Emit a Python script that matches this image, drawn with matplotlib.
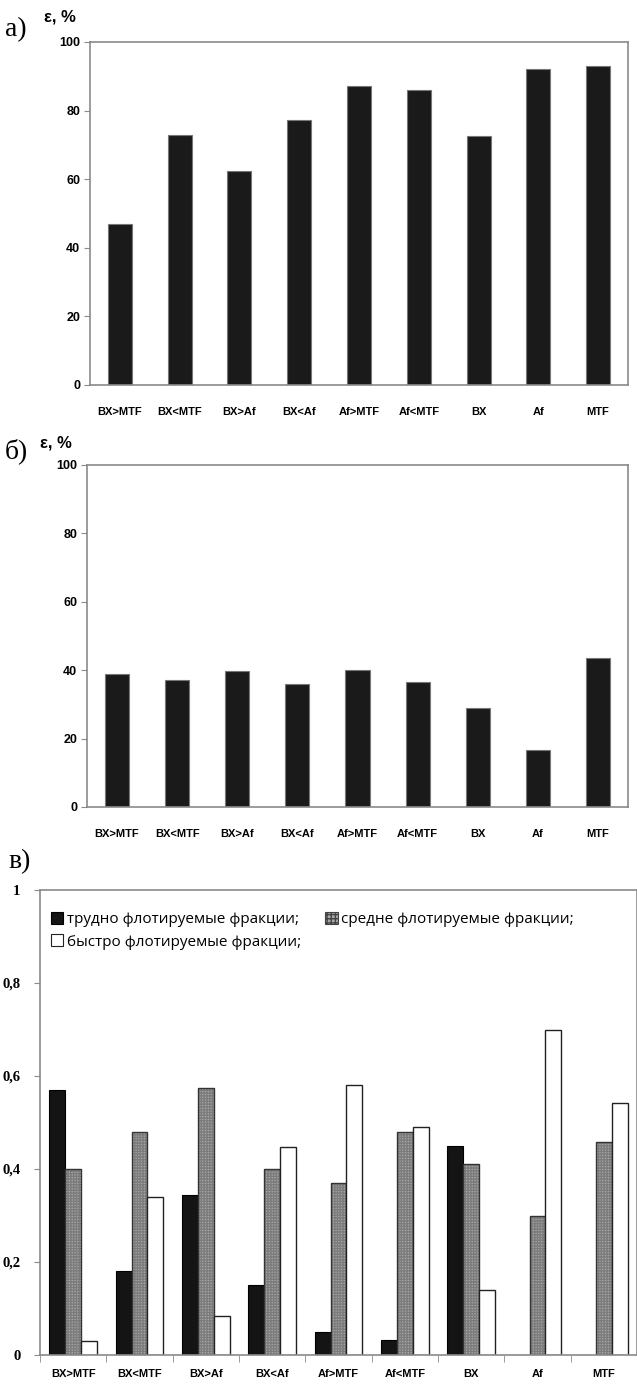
import matplotlib
matplotlib.use("Agg")
import matplotlib.pyplot as plt
import numpy as np
from matplotlib.patches import Patch

categories = ["BX>MTF", "BX<MTF", "BX>Af", "BX<Af", "Af>MTF", "Af<MTF", "BX", "Af", "MTF"]

# panel а) and б): extraction, %
eps_a = [47.0, 73.0, 62.3, 77.2, 87.2, 86.0, 72.5, 92.2, 93.0]
eps_b = [39.0, 37.2, 39.8, 36.0, 40.2, 36.5, 29.0, 16.8, 43.6]
eps_ticks = [0, 20, 40, 60, 80, 100]

# panel в): fraction shares
hard = [0.57, 0.18, 0.345, 0.15, 0.05, 0.033, 0.45, 0.0, 0.0]
medium = [0.40, 0.48, 0.575, 0.40, 0.37, 0.48, 0.41, 0.30, 0.457]
fast = [0.03, 0.34, 0.083, 0.447, 0.58, 0.49, 0.14, 0.70, 0.543]
share_ticks = [0, 0.2, 0.4, 0.6, 0.8, 1.0]
share_labels = ["0", "0,2", "0,4", "0,6", "0,8", "1"]
legend_labels = ["трудно флотируемые фракции;", "средне флотируемые фракции;",
                 "быстро флотируемые фракции;"]

W, H = 637, 1385
fig = plt.figure(figsize=(W / 100, H / 100), dpi=100)
SANS = ["Liberation Sans", "DejaVu Sans"]
SERIF = ["Liberation Serif", "DejaVu Serif"]
GRID = "#8a8a8a"


def px_axes(left, top, right, bottom):
    return fig.add_axes([left / W, 1 - bottom / H, (right - left) / W, (bottom - top) / H])


def eps_panel(ax, values):
    x = np.arange(len(categories))
    ax.bar(x, values, width=0.4, color="#1a1a1a", edgecolor="#777777", lw=0.8)
    ax.set_xlim(-0.5, len(categories) - 0.5)
    ax.set_ylim(0, 100)
    ax.set_yticks(eps_ticks)
    ax.set_yticklabels([str(t) for t in eps_ticks], family=SANS, fontweight="bold", fontsize=9)
    ax.set_xticks(x)
    ax.set_xticklabels(categories, family=SANS, fontweight="bold", fontsize=8)
    ax.tick_params(axis="x", length=0, pad=16)
    ax.tick_params(axis="y", length=4, color=GRID, pad=3)
    for s in ax.spines.values():
        s.set_color(GRID)
        s.set_linewidth(1.2)


ax_a = px_axes(90, 42, 628, 385)
eps_panel(ax_a, eps_a)
ax_b = px_axes(87, 465, 628, 807)
eps_panel(ax_b, eps_b)

fig.text(5 / W, 1 - 30 / H, "а)", family=SERIF, fontsize=20, va="center", ha="left")
fig.text(44 / W, 1 - 17 / H, "ε, %", family=SANS, fontweight="bold", fontsize=12, va="center")
fig.text(5 / W, 1 - 451 / H, "б)", family=SERIF, fontsize=20, va="center", ha="left")
fig.text(40 / W, 1 - 443 / H, "ε, %", family=SANS, fontweight="bold", fontsize=12, va="center")
fig.text(8 / W, 1 - 862 / H, "в)", family=SERIF, fontsize=20, va="center", ha="left")

# panel в)
ax_c = px_axes(40, 890, 637, 1355)
x = np.arange(len(categories))
w = 0.24
ax_c.bar(x - w, hard, width=w, color="#141414", edgecolor="#000000", lw=0.8)
ax_c.bar(x, medium, width=w, color="#a8a8a8", edgecolor="#7c7c7c", lw=0, hatch="++++++")
ax_c.bar(x, medium, width=w, fill=False, edgecolor="#333333", lw=1.0)
ax_c.bar(x + w, fast, width=w, color="white", edgecolor="#222222", lw=1.0)
ax_c.set_xlim(-0.5, len(categories) - 0.5)
ax_c.set_ylim(0, 1)
ax_c.set_yticks(share_ticks)
ax_c.set_yticklabels(share_labels, family=SERIF, fontweight="bold", fontsize=10.5)
ax_c.set_xticks(x)
ax_c.set_xticklabels(categories, family=SANS, fontweight="bold", fontsize=8)
ax_c.set_xticks(np.arange(len(categories) + 1) - 0.5, minor=True)
ax_c.tick_params(axis="x", which="major", length=0, pad=10)
ax_c.tick_params(axis="x", which="minor", length=5, color=GRID, direction="out")
ax_c.tick_params(axis="y", length=4, color=GRID, pad=10)
for s in ax_c.spines.values():
    s.set_color(GRID)
    s.set_linewidth(1.2)

handles = [
    Patch(facecolor="#141414", edgecolor="#000000", lw=0.8),
    Patch(facecolor="white", edgecolor="#222222", lw=0.8),
    Patch(facecolor="#a8a8a8", edgecolor="#444444", lw=0.8, hatch="++++"),
]
ax_c.legend(handles, [legend_labels[0], legend_labels[2], legend_labels[1]], ncol=2,
            loc="upper left", bbox_to_anchor=(0.0, 0.975), frameon=False,
            prop={"family": ["Open Sans", "DejaVu Sans"], "size": 11},
            handlelength=0.8, handleheight=0.8, handletextpad=0.25,
            columnspacing=1.6, labelspacing=0.45, borderaxespad=0.3)

fig.savefig("out.png", dpi=100)
